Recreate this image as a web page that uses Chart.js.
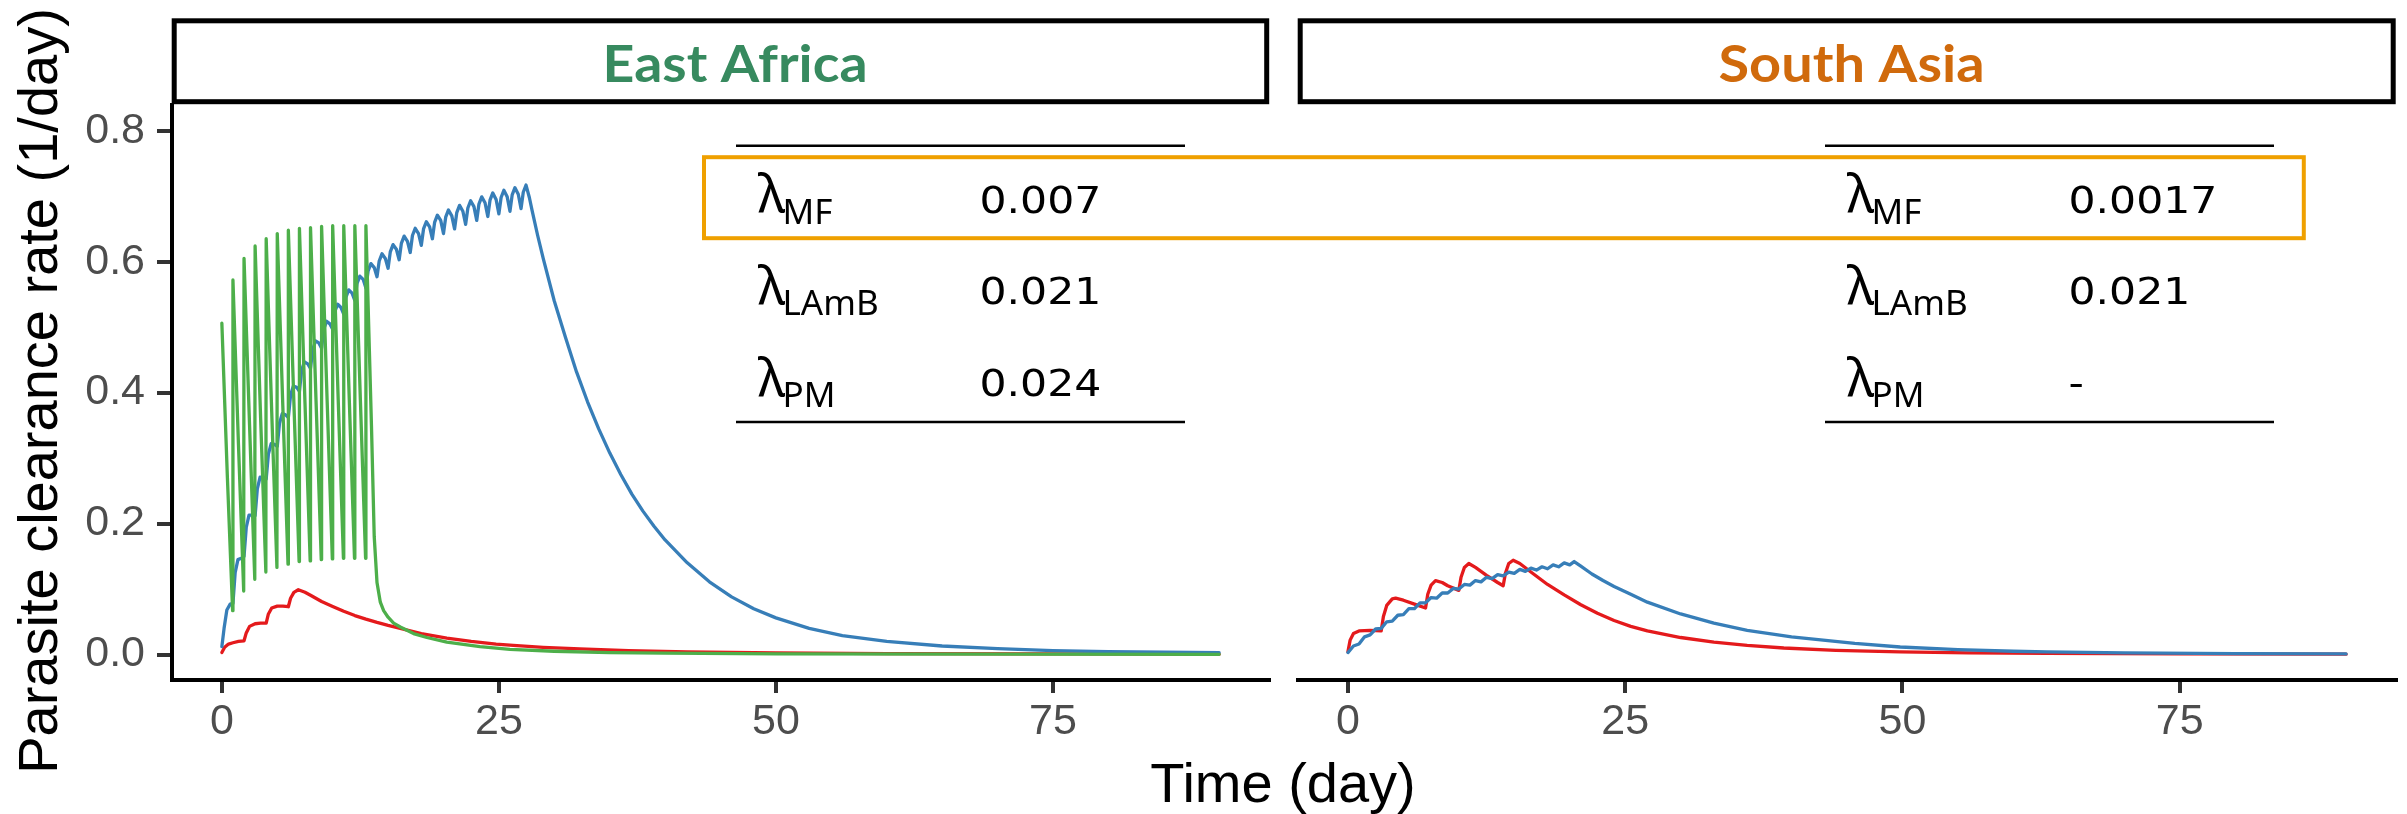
<!DOCTYPE html>
<html><head><meta charset="utf-8">
<script src="https://cdn.jsdelivr.net/npm/chart.js@4"></script>
<style>
html,body{margin:0;padding:0;background:#fff;}
#wrap{position:relative;width:2407px;height:814px;overflow:hidden;background:#fff;}
canvas{position:absolute;top:0;}
</style></head><body>
<div id="wrap">
<canvas id="cL" width="1280" height="814" style="left:0;width:1280px;height:814px"></canvas>
<canvas id="cR" width="1127" height="814" style="left:1280px;width:1127px;height:814px"></canvas>
</div>
<script>
// ---------- data ----------
const panels = ["East Africa", "South Asia"];
const xTicks = [0, 25, 50, 75];
const yTicks = [0, 0.2, 0.4, 0.6, 0.8];
const tableLabels = ["MF", "LAmB", "PM"];
const eaRates = ["0.007", "0.021", "0.024"];
const saRates = ["0.0017", "0.021", "-"];

// East Africa - PM (green)
const eaPmT = [0,0.5,0.97, 1,1.5,1.97, 2,2.5,2.97, 3,3.5,3.97, 4,4.5,4.97, 5,5.5,5.97, 6,6.5,6.97, 7,7.5,7.97, 8,8.5,8.97, 9,9.5,9.97, 10,10.5,10.97, 11,11.5,11.97, 12,12.5,12.97,
  13,13.5,13.75,14,14.3,14.6,15,15.5,16.1,17.3,18.5,20.3,23.3,26,30,35,40,50,70,90];
const eaPmV = [0.506,0.27,0.067, 0.572,0.32,0.097, 0.605,0.35,0.115, 0.624,0.36,0.126, 0.635,0.37,0.133, 0.643,0.38,0.138, 0.648,0.385,0.142, 0.651,0.385,0.143, 0.652,0.387,0.145, 0.654,0.388,0.146, 0.655,0.389,0.147, 0.655,0.389,0.147, 0.655,0.389,0.147,
  0.655,0.35,0.18,0.11,0.08,0.067,0.057,0.048,0.042,0.032,0.026,0.019,0.012,0.008,0.005,0.003,0.002,0.001,0.0005,0.0003];

// East Africa - LAmB (blue)
const eaLambT = [0,0.2,0.45,0.75, 1,1.2,1.45,1.75, 2,2.2,2.45,2.75, 3,3.2,3.45,3.75, 4,4.2,4.45,4.75, 5,5.2,5.45,5.75, 6,6.2,6.45,6.75, 7,7.2,7.45,7.75, 8,8.2,8.45,8.75, 9,9.2,9.45,9.75, 10,10.2,10.45,10.75, 11,11.2,11.45,11.75, 12,12.2,12.45,12.75, 13,13.2,13.45,13.75, 14,14.2,14.45,14.75, 15,15.2,15.45,15.75, 16,16.2,16.45,16.75, 17,17.2,17.45,17.75, 18,18.2,18.45,18.75, 19,19.2,19.45,19.75, 20,20.2,20.45,20.75, 21,21.2,21.45,21.75, 22,22.2,22.45,22.75, 23,23.2,23.45,23.75, 24,24.2,24.45,24.75, 25,25.2,25.45,25.75, 26,26.2,26.45,26.75, 27,27.2,27.45,27.75,
  28,28.5,29,30,31,32,33,34,35,36,37,38,39,40,42,44,46,48,50,53,56,60,65,70,75,80,85,90];
const eaLambV = [0.012,0.040,0.068,0.077, 0.078,0.125,0.145,0.147, 0.150,0.194,0.213,0.213, 0.212,0.253,0.271,0.270, 0.268,0.306,0.322,0.321, 0.318,0.353,0.368,0.366, 0.362,0.396,0.410,0.408, 0.402,0.434,0.447,0.444, 0.437,0.466,0.479,0.476, 0.468,0.497,0.509,0.505, 0.497,0.524,0.535,0.530, 0.520,0.546,0.557,0.552, 0.541,0.567,0.578,0.573, 0.560,0.586,0.597,0.591, 0.577,0.601,0.612,0.605, 0.590,0.615,0.626,0.619, 0.603,0.628,0.639,0.631, 0.614,0.640,0.651,0.643, 0.625,0.650,0.661,0.653, 0.635,0.660,0.671,0.663, 0.643,0.668,0.679,0.670, 0.650,0.675,0.686,0.677, 0.657,0.682,0.693,0.684, 0.663,0.688,0.699,0.690, 0.669,0.694,0.705,0.695, 0.673,0.698,0.709,0.699, 0.677,0.702,0.713,0.703, 0.681,0.706,0.717,0.698,
  0.678,0.640,0.605,0.540,0.485,0.432,0.386,0.345,0.308,0.275,0.245,0.219,0.196,0.175,0.140,0.111,0.088,0.070,0.056,0.040,0.029,0.020,0.013,0.009,0.006,0.0045,0.0035,0.003];

// East Africa - MF (red)
const eaMfT = [0,0.25,0.6,1,1.5,2, 2.2,2.5,3,3.5,4, 4.2,4.5,5,5.5,6, 6.2,6.5,6.9,7.5,8, 9,10,11,12,13,14,15,16.1, 18,20.3,22.5,24.75,26.3,29,32.3,36.7, 42,50,60,75,90];
const eaMfV = [0.003,0.011,0.016,0.018,0.020,0.021, 0.033,0.043,0.047,0.048,0.048, 0.062,0.071,0.074,0.074,0.073, 0.086,0.095,0.099,0.095,0.0905, 0.081,0.0735,0.066,0.0595,0.054,0.049,0.0445,0.040, 0.032,0.025,0.020,0.016,0.014,0.011,0.0085,0.006, 0.004,0.0025,0.0015,0.001,0.0006];

// South Asia - LAmB (blue)
const saLambT = [0,0.5,1,1.5,2,2.5,3,3.5,4,4.5,5,5.5,6,6.5,7,7.5,8,8.5,9,9.5,10,10.5,11,11.5,12,12.5,13,13.5,14,14.5,15,15.5,16,16.5,17,17.5,18,18.5,19,19.5,20,
  20.4,21,22,23,24,25.5,27,30,33,36,40,45.7,49.8,55,60,63,70,80,90];
const saLambV = [0.003,0.013, 0.016,0.027, 0.030,0.039, 0.040,0.050, 0.051,0.060, 0.061,0.070, 0.070,0.079, 0.079,0.087, 0.086,0.094, 0.094,0.101, 0.100,0.107, 0.106,0.113, 0.111,0.118, 0.116,0.122, 0.120,0.126, 0.124,0.130, 0.127,0.132, 0.129,0.134, 0.131,0.137, 0.134,0.140, 0.137,
  0.142,0.135,0.123,0.113,0.104,0.092,0.080,0.062,0.048,0.037,0.027,0.017,0.0115,0.0075,0.005,0.004,0.0025,0.0015,0.001];

// South Asia - MF (red)
const saMfT = [0,0.2,0.5,1,2,3, 3.2,3.5,4,4.3,5,6,7, 7.2,7.5,7.9,8.5,9,10, 10.2,10.5,10.9,11.5,12.5,13.5,14, 14.2,14.5,14.9,15.5,16.5,18,19.5, 21,22.5,24,25.5,27,30, 33,36,39.3,44,49.8,56,63,75,90];
const saMfV = [0.004,0.022,0.032,0.036,0.037,0.036, 0.058,0.075,0.085,0.086,0.083,0.077,0.071, 0.092,0.106,0.113,0.110,0.105,0.098, 0.118,0.133,0.139,0.133,0.121,0.110,0.105, 0.124,0.139,0.144,0.139,0.126,0.107,0.091, 0.076,0.063,0.052,0.043,0.036,0.026, 0.019,0.014,0.010,0.0065,0.004,0.0025,0.0017,0.001,0.0006];

// ---------- styling ----------
const RED = '#E41A1C', BLUE = '#377EB8', GREEN = '#4DAF4A';
const Y_MIN = -0.0389, Y_MAX = 0.8393;
const X_MIN = -4.5, X_MAX = 94.5;

function series(t, v, color) {
  return {
    data: t.map((x, i) => ({x: x, y: v[i]})),
    borderColor: color, backgroundColor: color,
    borderWidth: 3.3, pointRadius: 0, tension: 0, fill: false,
    borderJoinStyle: 'round', borderCapStyle: 'round'
  };
}

function drawStretched(ctx, text, x, y, font, color, align, sx) {
  ctx.save();
  ctx.font = font; ctx.fillStyle = color;
  ctx.textAlign = 'left'; ctx.textBaseline = 'alphabetic';
  const w = ctx.measureText(text).width * sx;
  const x0 = align === 'center' ? x - w / 2 : x;
  ctx.translate(x0, y); ctx.scale(sx, 1);
  ctx.fillText(text, 0, 0);
  ctx.restore();
}
function drawFit(ctx, text, cx, y, font, color, targetW) {
  ctx.save(); ctx.font = font;
  const m = ctx.measureText(text).width;
  ctx.restore();
  drawStretched(ctx, text, cx, y, font, color, 'center', targetW / m);
}

const overlay = {
  id: 'overlay',
  afterDraw(chart, args, opts) {
    const ctx = chart.ctx;
    ctx.save();
    ctx.translate(-opts.offsetX, 0);
    // strips
    ctx.fillStyle = '#fff';
    ctx.strokeStyle = '#000'; ctx.lineWidth = 5;
    ctx.fillRect(174.2, 20.8, 1092.5, 80.9);
    ctx.strokeRect(174.2, 20.8, 1092.5, 80.9);
    ctx.fillRect(1300.2, 20.8, 1093, 80.9);
    ctx.strokeRect(1300.2, 20.8, 1093, 80.9);
    drawFit(ctx, panels[0], 735, 81.5, 'bold 51px Lato', '#378A5F', 265);
    drawFit(ctx, panels[1], 1851.5, 81.5, 'bold 51px Lato', '#D06A0C', 266);

    // tables
    const tabs = [{x0: 736, rates: eaRates}, {x0: 1825, rates: saRates}];
    const rowBase = [212, 303.5, 395.5];
    tabs.forEach(tb => {
      ctx.strokeStyle = '#000'; ctx.lineWidth = 2.5;
      ctx.beginPath();
      ctx.moveTo(tb.x0, 145.7); ctx.lineTo(tb.x0 + 449, 145.7);
      ctx.moveTo(tb.x0, 422); ctx.lineTo(tb.x0 + 449, 422);
      ctx.stroke();
      ctx.fillStyle = '#000';
      ctx.textAlign = 'left'; ctx.textBaseline = 'alphabetic';
      for (let i = 0; i < 3; i++) {
        ctx.font = '52px "Noto Sans"';
        ctx.fillText('\u03BB', tb.x0 + 22, rowBase[i]);
        ctx.font = '35px "Noto Sans"';
        ctx.fillText(tableLabels[i], tb.x0 + 46.5, rowBase[i] + 11.5);
        drawStretched(ctx, tb.rates[i], tb.x0 + 243.5, rowBase[i] + 0.5, '38px "DejaVu Sans"', '#000', 'left', 1.12);
      }
    });

    // highlight box
    ctx.strokeStyle = '#EFA000'; ctx.lineWidth = 4;
    ctx.strokeRect(704, 157.2, 1599.8, 81);

    // axis titles
    ctx.fillStyle = '#000';
    ctx.font = '56px "Liberation Sans"';
    ctx.textAlign = 'center'; ctx.textBaseline = 'alphabetic';
    ctx.fillText('Time (day)', 1283, 801.5);
    ctx.save();
    ctx.translate(57, 391); ctx.rotate(-Math.PI / 2);
    ctx.fillText('Parasite clearance rate (1/day)', 0, 0);
    ctx.restore();

    ctx.restore();
  }
};

function makeChart(canvasId, offsetX, showY, padLeft, padRight, datasets) {
  return new Chart(document.getElementById(canvasId), {
    type: 'line',
    data: {datasets: datasets},
    plugins: [overlay],
    options: {
      responsive: false, animation: false, devicePixelRatio: 1,
      parsing: true, normalized: true,
      layout: {padding: {left: padLeft, right: padRight, top: 105, bottom: 0}},
      plugins: {legend: {display: false}, tooltip: {enabled: false}, overlay: {offsetX: offsetX}},
      scales: {
        x: {
          type: 'linear', min: X_MIN, max: X_MAX,
          afterBuildTicks: s => { s.ticks = xTicks.map(v => ({value: v})); },
          afterFit: s => { s.height = 134; },
          border: {display: true, color: '#000', width: 4},
          grid: {display: true, drawOnChartArea: false, drawTicks: true, tickLength: 13, tickWidth: 4, tickColor: '#333333', lineWidth: 4},
          ticks: {autoSkip: false, maxRotation: 0, minRotation: 0, padding: 3, color: '#4D4D4D',
                  font: {family: 'Liberation Sans', size: 43}, callback: v => String(v)}
        },
        y: {
          type: 'linear', display: showY, min: Y_MIN, max: Y_MAX,
          afterBuildTicks: s => { s.ticks = yTicks.map(v => ({value: v})); },
          afterFit: s => { s.width = showY ? 172 : 0; },
          border: {display: true, color: '#000', width: 4},
          grid: {display: true, drawOnChartArea: false, drawTicks: true, tickLength: 15, tickWidth: 4, tickColor: '#333333', lineWidth: 4},
          ticks: {autoSkip: false, padding: 12, color: '#4D4D4D',
                  font: {family: 'Liberation Sans', size: 43}, callback: v => Number(v).toFixed(1)}
        }
      }
    }
  });
}

makeChart('cL', 0, true, 0, 11, [
  series(eaPmT, eaPmV, GREEN),
  series(eaLambT, eaLambV, BLUE),
  series(eaMfT, eaMfV, RED)
]);
makeChart('cR', 1280, false, 18, 11, [
  series(saLambT, saLambV, BLUE),
  series(saMfT, saMfV, RED)
]);
</script>
</body></html>
